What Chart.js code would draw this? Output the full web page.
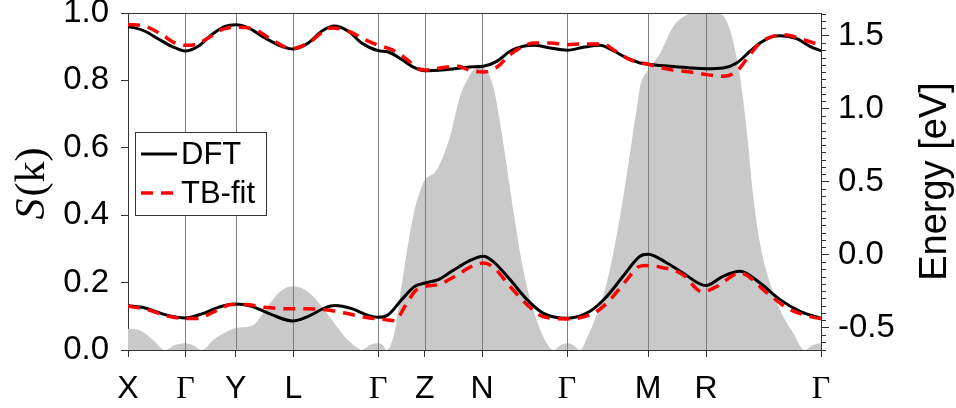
<!DOCTYPE html>
<html><head><meta charset="utf-8">
<script src="https://cdn.jsdelivr.net/npm/chart.js@4.4.1/dist/chart.umd.min.js"></script>
<style>html,body{margin:0;padding:0;background:#fff;}canvas{display:block;}</style>
</head><body>
<canvas id="c" width="956" height="408"></canvas>
<script>
// High-symmetry path
const symK = [0, 0.574, 1.077, 1.653, 2.503, 2.967, 3.54, 4.39, 5.20, 5.78, 6.93];
const symLabels = ['X','Γ','Y','L','Γ','Z','N','Γ','M','R','Γ'];

// Left axis ticks (S(k)) and right axis ticks (Energy)
const sTicks = [0, 0.2, 0.4, 0.6, 0.8, 1.0];
const eTicks = [-0.5, 0, 0.5, 1.0, 1.5];
const eMinorStep = 0.05;

// S(k) (grey filled)
const grayK = [0, 0.12, 0.25, 0.37, 0.47, 0.574, 0.65, 0.737, 0.853, 0.987, 1.077, 1.253, 1.387, 1.52, 1.653, 1.82, 2.053, 2.18, 2.30, 2.33, 2.42, 2.49, 2.55, 2.587, 2.67, 2.737, 2.80, 2.853, 2.937, 2.967, 3.087, 3.22, 3.32, 3.42, 3.453, 3.54, 3.653, 3.753, 3.853, 3.953, 4.053, 4.187, 4.253, 4.33, 4.39, 4.45, 4.52, 4.61, 4.653, 4.787, 4.92, 5.02, 5.10, 5.12, 5.20, 5.32, 5.453, 5.587, 5.65, 5.90, 6.02, 6.12, 6.187, 6.253, 6.32, 6.42, 6.52, 6.653, 6.765, 6.85, 6.93];
const grayS = [0.063, 0.058, 0.03, 0.0, 0.015, 0.02, 0.014, 0.0, 0.03, 0.054, 0.065, 0.074, 0.126, 0.173, 0.189, 0.168, 0.084, 0.035, 0.005, 0.0, 0.015, 0.02, 0.015, 0.0, 0.059, 0.193, 0.312, 0.40, 0.485, 0.504, 0.534, 0.633, 0.752, 0.816, 0.831, 0.839, 0.781, 0.613, 0.415, 0.237, 0.119, 0.02, 0.0, 0.015, 0.02, 0.015, 0.0, 0.05, 0.079, 0.198, 0.396, 0.584, 0.742, 0.781, 0.831, 0.88, 0.96, 0.995, 1.0, 1.0, 0.95, 0.811, 0.653, 0.455, 0.317, 0.198, 0.119, 0.05, 0.0, 0.015, 0.02];

// DFT bands (eV)
const dftUpK = [0, 0.07, 0.17, 0.30, 0.437, 0.574, 0.703, 0.837, 0.97, 1.077, 1.203, 1.37, 1.537, 1.653, 1.803, 1.937, 2.06, 2.203, 2.337, 2.503, 2.603, 2.737, 2.87, 2.967, 3.17, 3.42, 3.553, 3.687, 3.82, 3.953, 4.053, 4.22, 4.39, 4.553, 4.72, 4.853, 4.987, 5.12, 5.20, 5.42, 5.62, 5.787, 5.953, 6.087, 6.22, 6.32, 6.453, 6.52, 6.687, 6.82, 6.93];
const dftUpE = [1.562, 1.553, 1.53, 1.479, 1.427, 1.395, 1.427, 1.507, 1.564, 1.575, 1.553, 1.484, 1.427, 1.409, 1.45, 1.53, 1.566, 1.53, 1.45, 1.397, 1.388, 1.336, 1.279, 1.26, 1.267, 1.285, 1.29, 1.324, 1.393, 1.427, 1.434, 1.416, 1.40, 1.42, 1.434, 1.397, 1.347, 1.313, 1.304, 1.29, 1.279, 1.274, 1.279, 1.313, 1.393, 1.45, 1.495, 1.50, 1.479, 1.427, 1.395];
const dftLowK = [0, 0.17, 0.37, 0.574, 0.737, 0.903, 1.07, 1.237, 1.437, 1.645, 1.803, 1.97, 2.07, 2.237, 2.403, 2.503, 2.603, 2.737, 2.87, 2.97, 3.103, 3.237, 3.403, 3.553, 3.65, 3.82, 3.99, 4.15, 4.39, 4.62, 4.79, 4.95, 5.12, 5.20, 5.39, 5.55, 5.78, 5.95, 6.12, 6.32, 6.52, 6.72, 6.93];
const dftLowE = [-0.349, -0.365, -0.411, -0.434, -0.406, -0.361, -0.338, -0.354, -0.411, -0.454, -0.422, -0.365, -0.349, -0.37, -0.416, -0.429, -0.411, -0.308, -0.217, -0.194, -0.171, -0.114, -0.046, -0.011, -0.046, -0.171, -0.308, -0.40, -0.436, -0.388, -0.285, -0.148, -0.011, 0.002, -0.057, -0.126, -0.212, -0.148, -0.114, -0.194, -0.308, -0.388, -0.436];

// TB-fit bands (eV)
const tbUpK = [0, 0.17, 0.337, 0.47, 0.574, 0.67, 0.803, 0.937, 1.103, 1.27, 1.437, 1.637, 1.803, 2.037, 2.203, 2.37, 2.503, 2.637, 2.77, 2.903, 2.967, 3.17, 3.30, 3.42, 3.553, 3.687, 3.82, 3.953, 4.053, 4.22, 4.387, 4.553, 4.753, 4.853, 5.02, 5.22, 5.42, 5.62, 5.787, 5.953, 6.087, 6.22, 6.32, 6.42, 6.553, 6.753, 6.93];
const tbUpE = [1.577, 1.564, 1.507, 1.45, 1.434, 1.438, 1.484, 1.541, 1.557, 1.541, 1.473, 1.411, 1.45, 1.553, 1.53, 1.473, 1.434, 1.404, 1.347, 1.274, 1.265, 1.283, 1.29, 1.262, 1.251, 1.283, 1.37, 1.427, 1.45, 1.45, 1.438, 1.443, 1.443, 1.404, 1.336, 1.301, 1.267, 1.251, 1.233, 1.221, 1.256, 1.37, 1.45, 1.488, 1.507, 1.473, 1.432];
const tbLowK = [0, 0.17, 0.37, 0.574, 0.687, 0.87, 1.037, 1.17, 1.37, 1.57, 1.77, 1.97, 2.17, 2.37, 2.57, 2.67, 2.77, 2.87, 2.97, 3.103, 3.27, 3.437, 3.553, 3.65, 3.82, 3.99, 4.15, 4.39, 4.65, 4.79, 4.99, 5.10, 5.18, 5.30, 5.55, 5.74, 5.89, 6.12, 6.39, 6.59, 6.79, 6.93];
const tbLowE = [-0.354, -0.372, -0.416, -0.438, -0.438, -0.388, -0.342, -0.342, -0.361, -0.37, -0.37, -0.377, -0.40, -0.429, -0.445, -0.452, -0.354, -0.251, -0.217, -0.205, -0.148, -0.08, -0.057, -0.084, -0.217, -0.342, -0.424, -0.44, -0.404, -0.331, -0.171, -0.085, -0.075, -0.082, -0.137, -0.255, -0.217, -0.126, -0.262, -0.365, -0.418, -0.44];

const SANS = '"Liberation Sans", Arial, Helvetica, sans-serif';
const SERIF = '"Liberation Serif", "DejaVu Serif", serif';
const AXIS = '#333333';
const pts = (ks, vs) => ks.map((k, i) => ({x: k, y: vs[i]}));
const noPad = s => { s.paddingTop = 0; s.paddingBottom = 0; s.paddingLeft = 0; s.paddingRight = 0; };

const lineBase = {yAxisID: 'y2', pointRadius: 0, fill: false, cubicInterpolationMode: 'monotone'};
const dftStyle = Object.assign({}, lineBase, {borderColor: '#000000', borderWidth: 3});
const tbStyle = Object.assign({}, lineBase, {borderColor: '#ff0000', borderWidth: 3.5, borderDash: [12, 8]});

const decor = {
  id: 'decor',
  afterDatasetDraw(chart, args) {
    if (args.index !== 0) return;
    const {ctx, chartArea: a, scales: {x}} = chart;
    ctx.save();
    ctx.strokeStyle = '#7f7f7f';
    ctx.lineWidth = 1;
    symK.forEach(k => {
      const px = Math.round(x.getPixelForValue(k)) + 0.5;
      if (px <= a.left + 2 || px >= a.right - 2) return;
      ctx.beginPath(); ctx.moveTo(px, a.top); ctx.lineTo(px, a.bottom); ctx.stroke();
    });
    ctx.restore();
  },
  afterDraw(chart) {
    const {ctx, chartArea: a, scales: {y2}} = chart;
    ctx.save();
    // top frame
    ctx.strokeStyle = AXIS; ctx.lineWidth = 1;
    ctx.beginPath(); ctx.moveTo(a.left, a.top + 0.5); ctx.lineTo(a.right + 1, a.top + 0.5); ctx.stroke();
    // minor ticks on right axis
    for (let i = -20; i <= 40; i++) {
      const v = i * eMinorStep;
      if (i % 10 === 0) continue;
      if (v < y2.min || v > y2.max) continue;
      const py = Math.round(y2.getPixelForValue(v)) + 0.5;
      ctx.beginPath(); ctx.moveTo(a.right, py); ctx.lineTo(a.right + 5, py); ctx.stroke();
    }
    // right title
    ctx.fillStyle = '#000';
    ctx.save();
    ctx.translate(946, (a.top + a.bottom) / 2);
    ctx.rotate(-Math.PI / 2);
    ctx.font = '38px ' + SANS;
    ctx.textAlign = 'center'; ctx.textBaseline = 'alphabetic';
    ctx.fillText('Energy [eV]', 0, 0);
    ctx.restore();
    // left title S(k)
    ctx.save();
    ctx.translate(44, (a.top + a.bottom) / 2 + 2);
    ctx.rotate(-Math.PI / 2);
    const fS = 'italic 42px ' + SERIF, fK = '42px ' + SERIF;
    ctx.font = fS; const wS = ctx.measureText('S').width;
    ctx.font = fK; const wK = ctx.measureText('(k)').width;
    const x0 = -(wS + 2 + wK) / 2;
    ctx.textAlign = 'left'; ctx.textBaseline = 'alphabetic';
    ctx.font = fS; ctx.fillText('S', x0, 0);
    ctx.font = fK; ctx.fillText('(k)', x0 + wS + 2, 0);
    ctx.restore();
    // legend
    const lx = a.left + 7, ly = a.top + 119, lw = 131, lh = 83;
    ctx.fillStyle = '#fff'; ctx.fillRect(lx, ly, lw, lh);
    ctx.strokeStyle = AXIS; ctx.lineWidth = 1;
    ctx.strokeRect(lx + 0.5, ly + 0.5, lw, lh);
    const entries = [{ds: chart.data.datasets[1], dy: 22}, {ds: chart.data.datasets[3], dy: 61}];
    entries.forEach(e => {
      const yy = ly + e.dy;
      ctx.save();
      ctx.strokeStyle = e.ds.borderColor; ctx.lineWidth = e.ds.borderWidth;
      ctx.setLineDash(e.ds.borderDash || []);
      ctx.beginPath(); ctx.moveTo(lx + 6, yy); ctx.lineTo(lx + 42, yy); ctx.stroke();
      ctx.restore();
      ctx.fillStyle = '#000'; ctx.font = '31px ' + SANS;
      ctx.textAlign = 'left'; ctx.textBaseline = 'middle';
      ctx.fillText(e.ds.label, lx + 46, yy + 1);
    });
    ctx.restore();
  }
};

new Chart(document.getElementById('c'), {
  type: 'line',
  data: {datasets: [
    {label: 'S(k)', data: pts(grayK, grayS), yAxisID: 'y', fill: 'origin', backgroundColor: '#c9c9c9', borderColor: 'rgba(0,0,0,0)', borderWidth: 0, pointRadius: 0, cubicInterpolationMode: 'monotone', order: 10},
    Object.assign({label: 'DFT', data: pts(dftUpK, dftUpE), order: 1}, dftStyle),
    Object.assign({label: 'DFT', data: pts(dftLowK, dftLowE), order: 1}, dftStyle),
    Object.assign({label: 'TB-fit', data: pts(tbUpK, tbUpE), order: 0}, tbStyle),
    Object.assign({label: 'TB-fit', data: pts(tbLowK, tbLowE), order: 0}, tbStyle)
  ]},
  options: {
    responsive: false, animation: false, devicePixelRatio: 1,
    layout: {padding: {top: 13, left: 0, right: 0, bottom: 0}},
    plugins: {legend: {display: false}, tooltip: {enabled: false}},
    scales: {
      x: {
        type: 'linear', position: 'bottom', min: symK[0], max: symK[symK.length - 1],
        afterBuildTicks: s => { s.ticks = symK.map(v => ({value: v})); },
        afterFit: s => { s.height = 58; noPad(s); },
        ticks: {autoSkip: false, maxRotation: 0, padding: 20, color: '#000',
          callback: (v, i) => symLabels[i],
          font: ctx => ({family: symLabels[ctx.index] === 'Γ' ? SERIF : SANS, size: 32, lineHeight: 0.78})},
        grid: {drawOnChartArea: false, drawTicks: true, tickLength: 7, color: AXIS, tickColor: AXIS},
        border: {color: AXIS, width: 1}
      },
      y: {
        position: 'left', min: 0, max: 1,
        afterBuildTicks: s => { s.ticks = sTicks.map(v => ({value: v})); },
        afterFit: s => { s.width = 128; noPad(s); },
        ticks: {color: '#000', padding: 12, font: {family: SANS, size: 33}, callback: v => v.toFixed(1)},
        grid: {drawOnChartArea: false, drawTicks: true, tickLength: 7, color: AXIS, tickColor: AXIS},
        border: {color: AXIS, width: 1}
      },
      y2: {
        position: 'right', min: -0.653, max: 1.655,
        afterBuildTicks: s => { s.ticks = eTicks.map(v => ({value: v})); },
        afterFit: s => { s.width = 135; noPad(s); },
        ticks: {color: '#000', padding: 9, font: {family: SANS, size: 33}, callback: v => v.toFixed(1)},
        grid: {drawOnChartArea: false, drawTicks: true, tickLength: 8, color: AXIS, tickColor: AXIS},
        border: {color: AXIS, width: 1}
      }
    }
  },
  plugins: [decor]
});
</script>
</body></html>
